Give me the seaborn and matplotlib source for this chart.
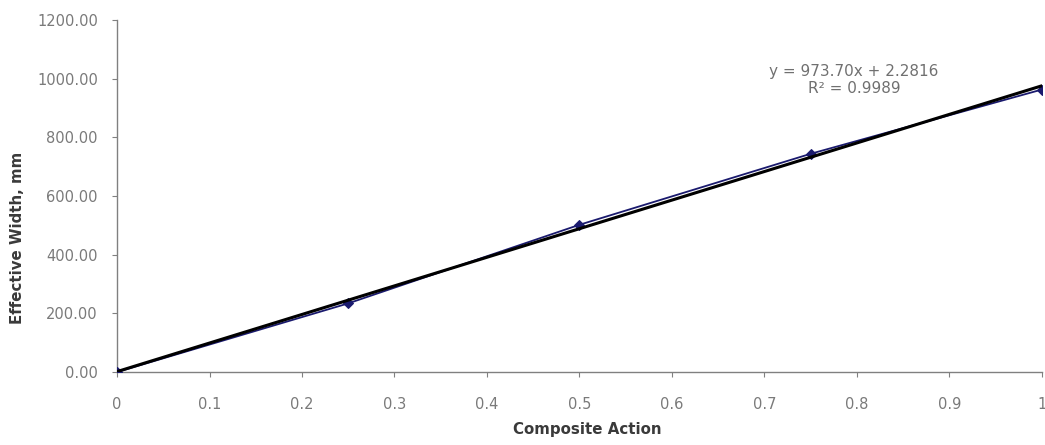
import matplotlib
matplotlib.use("Agg")
import matplotlib.pyplot as plt
import seaborn as sns
import numpy as np
import pandas as pd

# Data
composite_action = [0.0, 0.25, 0.5, 0.75, 1.0]
effective_width = [0.0, 234.0, 502.0, 744.0, 963.0]
x_ticks = [0, 0.1, 0.2, 0.3, 0.4, 0.5, 0.6, 0.7, 0.8, 0.9, 1]
x_tick_labels = ["0", "0.1", "0.2", "0.3", "0.4", "0.5", "0.6", "0.7", "0.8", "0.9", "1"]
y_ticks = [0, 200, 400, 600, 800, 1000, 1200]
y_tick_labels = ["0.00", "200.00", "400.00", "600.00", "800.00", "1000.00", "1200.00"]
trend_text = "y = 973.70x + 2.2816\nR² = 0.9989"

sns.set_theme(style="white")
plt.rcParams['font.family'] = ['DejaVu Sans']

df = pd.DataFrame({"Composite Action": composite_action,
                   "Effective Width, mm": effective_width})

fig = plt.figure(figsize=(10.45, 4.45), dpi=100)
ax = fig.add_axes([0.112, 0.164, 0.885, 0.791])

sns.lineplot(data=df, x="Composite Action", y="Effective Width, mm", ax=ax,
             color="#1a1a6e", linewidth=1.3, marker="D", markersize=5,
             markeredgecolor="#1a1a6e", zorder=3)
sns.regplot(data=df, x="Composite Action", y="Effective Width, mm", ax=ax,
            scatter=False, ci=None, truncate=True,
            line_kws=dict(color="black", linewidth=2.2, zorder=4))

ax.set_xlim(0, 1)
ax.set_ylim(0, 1200)
ax.set_xticks(x_ticks)
ax.set_xticklabels(x_tick_labels)
ax.set_yticks(y_ticks)
ax.set_yticklabels(y_tick_labels)

for side in ["top", "right"]:
    ax.spines[side].set_visible(False)
for side in ["left", "bottom"]:
    ax.spines[side].set_color("#808080")
    ax.spines[side].set_linewidth(1.0)

ax.tick_params(axis="both", which="major", direction="out", length=3.8, width=0.8,
               color="#808080", labelcolor="#7a7a7a", labelsize=10.5,
               bottom=True, left=True)
ax.yaxis.set_tick_params(pad=10)
ax.xaxis.set_tick_params(pad=14)

ax.set_xlabel("Composite Action", fontsize=10.8, fontweight="bold", color="#3a3a3a")
ax.set_ylabel("Effective Width, mm", fontsize=10.8, fontweight="bold", color="#3a3a3a")
ax.xaxis.set_label_coords(0.508, -0.143)
ax.yaxis.set_label_coords(-0.099, 0.381)

ax.text(0.797, 996, trend_text, ha="center", va="center", fontsize=11,
        color="#707070", linespacing=1.15)

for lbl in ax.get_xticklabels():
    lbl.set_clip_on(False)

fig.savefig("out.png", dpi=100, facecolor="white")
